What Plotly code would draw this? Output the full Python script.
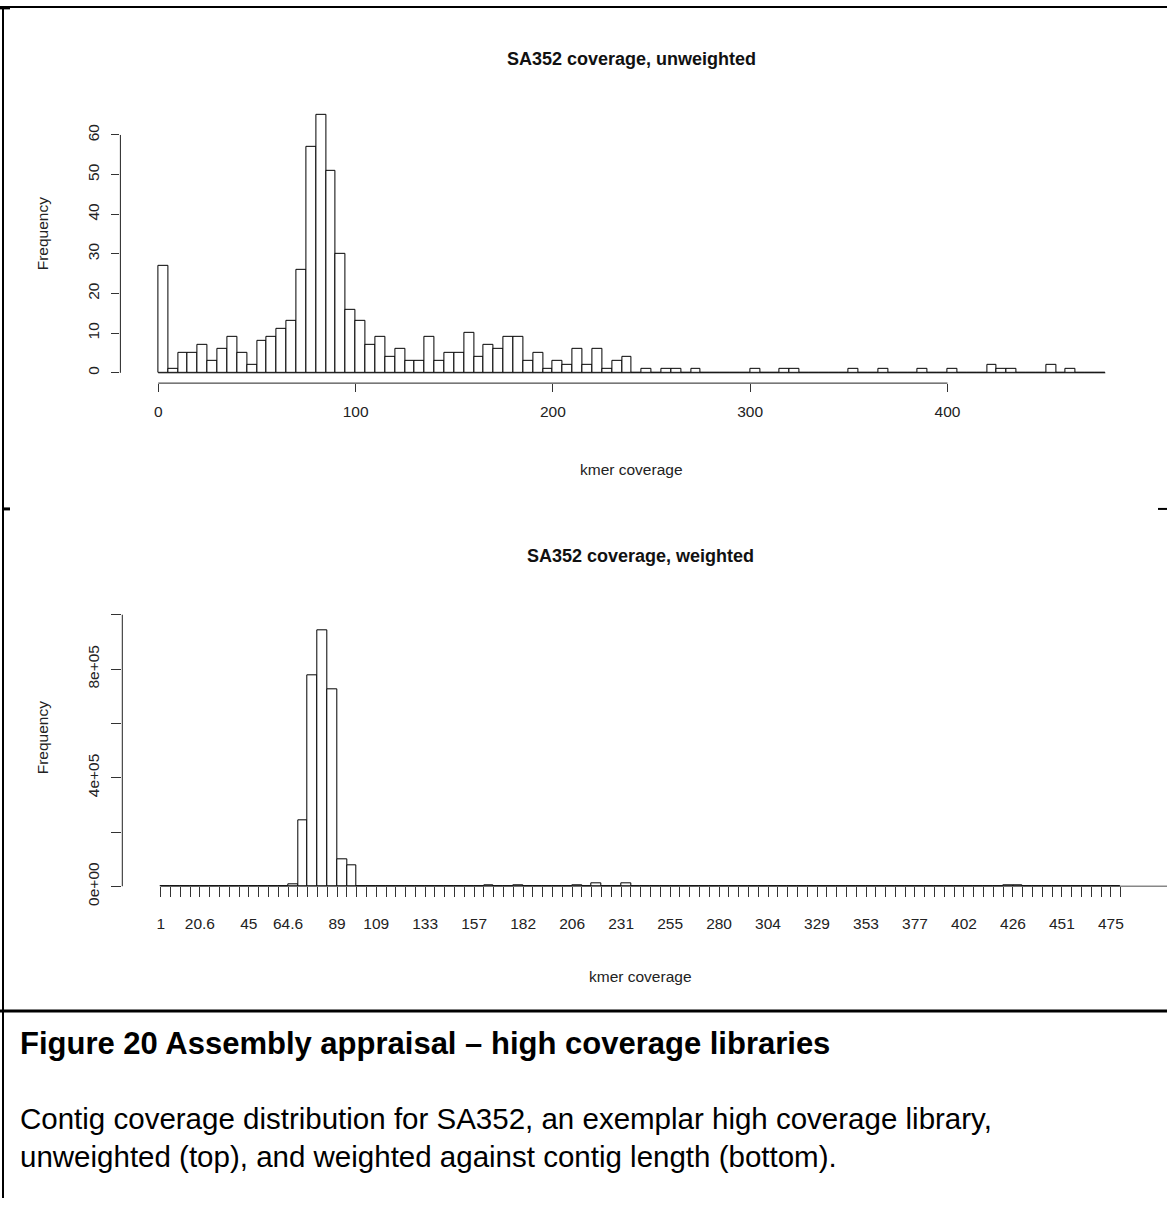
import numpy as np
import plotly.graph_objects as go

# ---------------- data ----------------
top_title = "SA352 coverage, unweighted"
bottom_title = "SA352 coverage, weighted"
x_title = "kmer coverage"
y_title = "Frequency"

# unweighted histogram: bins of width 5 starting at 0
top_bin_start = 0
top_bin_width = 5
top_counts = [
    27, 1, 5, 5, 7, 3, 6, 9, 5, 2,
    8, 9, 11, 13, 26, 57, 65, 51, 30, 16,
    13, 7, 9, 4, 6, 3, 3, 9, 3, 5,
    5, 10, 4, 7, 6, 9, 9, 3, 5, 1,
    3, 2, 6, 2, 6, 1, 3, 4, 0, 1,
    0, 1, 1, 0, 1, 0, 0, 0, 0, 0,
    1, 0, 0, 1, 1, 0, 0, 0, 0, 0,
    1, 0, 0, 1, 0, 0, 0, 1, 0, 0,
    1, 0, 0, 0, 2, 1, 1, 0, 0, 0,
    2, 0, 1, 0, 0, 0,
]
top_xticks = [0, 100, 200, 300, 400]
top_yticks = [0, 10, 20, 30, 40, 50, 60]

# weighted histogram: 98 equal bins between min and max coverage
w_min, w_max = 1.0, 480.07
weighted_freq = [
    0, 0, 0, 0, 0, 0, 0, 0, 0, 0,
    0, 0, 1500, 8000, 243000, 776000, 944000, 726000, 100000, 77000,
    1500, 0, 0, 0, 0, 0, 0, 0, 0, 0,
    0, 0, 0, 5000, 0, 0, 6000, 0, 0, 0,
    0, 0, 4000, 0, 12000, 0, 0, 12000, 0, 0,
    2000, 0, 0, 0, 0, 0, 0, 0, 0, 0,
    0, 0, 0, 0, 0, 0, 0, 0, 0, 0,
    0, 0, 0, 0, 0, 0, 0, 0, 0, 0,
    0, 0, 0, 0, 0, 0, 3000, 3000, 0, 0,
    0, 0, 0, 0, 0, 0, 0, 0,
]
w_tick_labels = ["1", "20.6", "45", "64.6", "89", "109", "133", "157", "182", "206",
                 "231", "255", "280", "304", "329", "353", "377", "402", "426", "451", "475"]
w_yticks = [0, 200000, 400000, 600000, 800000, 1000000]
w_ytick_labels = ["0e+00", "", "4e+05", "", "8e+05", ""]

caption_title = "Figure 20 Assembly appraisal \u2013 high coverage libraries"
caption_lines = [
    "Contig coverage distribution for SA352, an exemplar high coverage library,",
    "unweighted (top), and weighted against contig length (bottom).",
]

# ---------------- layout helpers ----------------
W, H = 1167, 1217
FONT = "Liberation Sans"


def fx(px):
    return px / W


def fy(py):
    return 1 - py / H


# top histogram geometry
top_edges = top_bin_start + top_bin_width * np.arange(len(top_counts) + 1)
top_centers = (top_edges[:-1] + top_edges[1:]) / 2
tx0, tx1 = top_edges[0], top_edges[-1]
top_xrange = [tx0 - 0.04 * (tx1 - tx0), tx1 + 0.04 * (tx1 - tx0)]
ymax = max(top_counts)
top_yrange = [-0.04 * ymax, ymax * 1.04]

# weighted histogram geometry
n_w = len(weighted_freq)
w_breaks = np.linspace(w_min, w_max, n_w + 1)
w_step = w_breaks[1] - w_breaks[0]
w_centers = (w_breaks[:-1] + w_breaks[1:]) / 2
bar_px = 9.796
ppu = bar_px / w_step
first_tick_px = 160.7
left_px, right_px = 122.3, 1167
w_xrange = [w_min - (first_tick_px - left_px) / ppu, w_min + (right_px - first_tick_px) / ppu]
w_yrange = [0, 1.1 * max(weighted_freq)]

w_ticktext = [""] * len(w_breaks)
for lab in w_tick_labels:
    idx = int(np.argmin(np.abs(w_breaks - float(lab))))
    w_ticktext[idx] = lab

fig = go.Figure()
fig.add_trace(go.Bar(
    x=top_centers, y=top_counts, width=top_bin_width,
    marker=dict(color="white", line=dict(color="black", width=1)),
    xaxis="x", yaxis="y", showlegend=False,
))
fig.add_trace(go.Bar(
    x=w_centers, y=weighted_freq, width=w_step,
    marker=dict(color="white", line=dict(color="black", width=1)),
    xaxis="x2", yaxis="y2", showlegend=False,
))

tickfont = dict(family=FONT, size=15.5, color="#222")
axis_common = dict(showgrid=False, zeroline=False, showline=False, ticks="outside",
                   tickcolor="#333", tickwidth=1, tickfont=tickfont)

top_dom_x = [fx(120.4), fx(1143.2)]
top_dom_y = [fy(389.2), fy(106.5)]
bot_dom_x = [fx(left_px), fx(right_px)]
bot_dom_y = [fy(900.5), fy(613.9)]

fig.update_layout(
    width=W, height=H, margin=dict(l=0, r=0, t=0, b=0),
    paper_bgcolor="white", plot_bgcolor="rgba(0,0,0,0)",
    bargap=0, barmode="overlay",
    xaxis=dict(domain=top_dom_x, range=top_xrange, anchor="y", tickvals=top_xticks,
               ticklen=8, ticklabelstandoff=6, **axis_common),
    yaxis=dict(domain=top_dom_y, range=top_yrange, anchor="x", tickvals=top_yticks,
               tickangle=-90, ticklen=8, ticklabelstandoff=6, **axis_common),
    xaxis2=dict(domain=bot_dom_x, range=w_xrange, anchor="y2", tickvals=list(w_breaks),
                ticktext=w_ticktext, tickangle=0, ticklen=10, ticklabelstandoff=13, **axis_common),
    yaxis2=dict(domain=bot_dom_y, range=w_yrange, anchor="x2", tickvals=w_yticks,
                ticktext=w_ytick_labels, tickangle=-90, ticklen=10, ticklabelstandoff=6, **axis_common),
)

line_black = dict(color="#222", width=1)
shapes = [
    # top axis lines (R style: spanning first to last tick)
    dict(type="line", xref="x", yref="paper", x0=top_xticks[0], x1=top_xticks[-1],
         y0=top_dom_y[0], y1=top_dom_y[0], line=line_black),
    dict(type="line", xref="paper", yref="y", x0=top_dom_x[0], x1=top_dom_x[0],
         y0=top_yticks[0], y1=top_yticks[-1], line=line_black),
    # zero baseline of top histogram bins
    dict(type="line", xref="x", yref="y", x0=tx0, x1=tx1, y0=0, y1=0, line=line_black),
    # bottom axis lines
    dict(type="line", xref="x2", yref="y2", x0=w_breaks[0], x1=w_xrange[1], y0=0, y1=0,
         line=dict(color="#111", width=1.5)),
    dict(type="line", xref="paper", yref="y2", x0=bot_dom_x[0], x1=bot_dom_x[0],
         y0=w_yticks[0], y1=w_yticks[-1], line=line_black),
    # document frame
    dict(type="line", xref="paper", yref="paper", x0=0, x1=1, y0=fy(7), y1=fy(7),
         line=dict(color="black", width=2)),
    dict(type="line", xref="paper", yref="paper", x0=fx(3), x1=fx(3), y0=fy(6), y1=0,
         line=dict(color="black", width=2)),
    dict(type="line", xref="paper", yref="paper", x0=0, x1=1, y0=fy(1027), y1=fy(1027),
         line=dict(color="black", width=3)),
    dict(type="line", xref="paper", yref="paper", x0=fx(3), x1=fx(10), y0=fy(517), y1=fy(517),
         line=dict(color="black", width=3)),
    dict(type="line", xref="paper", yref="paper", x0=fx(1158), x1=1, y0=fy(517), y1=fy(517),
         line=dict(color="black", width=2)),
    dict(type="line", xref="paper", yref="paper", x0=0, x1=fx(10), y0=fy(8), y1=fy(8),
         line=dict(color="black", width=3)),
]
fig.update_layout(shapes=shapes)

lab_font = dict(family=FONT, size=15.5, color="#222")
title_font = dict(family=FONT, size=18, color="#111")
cx_top = (120.4 + 1143.2) / 2
cx_bot = (left_px + 1159.1) / 2
annotations = [
    dict(text="<b>" + top_title + "</b>", x=fx(cx_top), y=fy(60), font=title_font),
    dict(text=y_title, x=fx(42), y=fy(238), textangle=-90, font=lab_font),
    dict(text=x_title, x=fx(cx_top), y=fy(477), font=lab_font),
    dict(text="<b>" + bottom_title + "</b>", x=fx(cx_bot), y=fy(565), font=title_font),
    dict(text=y_title, x=fx(42), y=fy(750), textangle=-90, font=lab_font),
    dict(text=x_title, x=fx(cx_bot), y=fy(992), font=lab_font),
    dict(text="<b>" + caption_title + "</b>", x=fx(18), y=fy(1060), xanchor="left",
         font=dict(family=FONT, size=31, color="black")),
    dict(text=caption_lines[0], x=fx(18), y=fy(1136), xanchor="left",
         font=dict(family=FONT, size=29.5, color="black")),
    dict(text=caption_lines[1], x=fx(18), y=fy(1175), xanchor="left",
         font=dict(family=FONT, size=29.5, color="black")),
]
for a in annotations:
    a.update(xref="paper", yref="paper", showarrow=False)
    a.setdefault("xanchor", "center")
    a.setdefault("yanchor", "middle")
fig.update_layout(annotations=annotations)

fig.write_html("out.html")
